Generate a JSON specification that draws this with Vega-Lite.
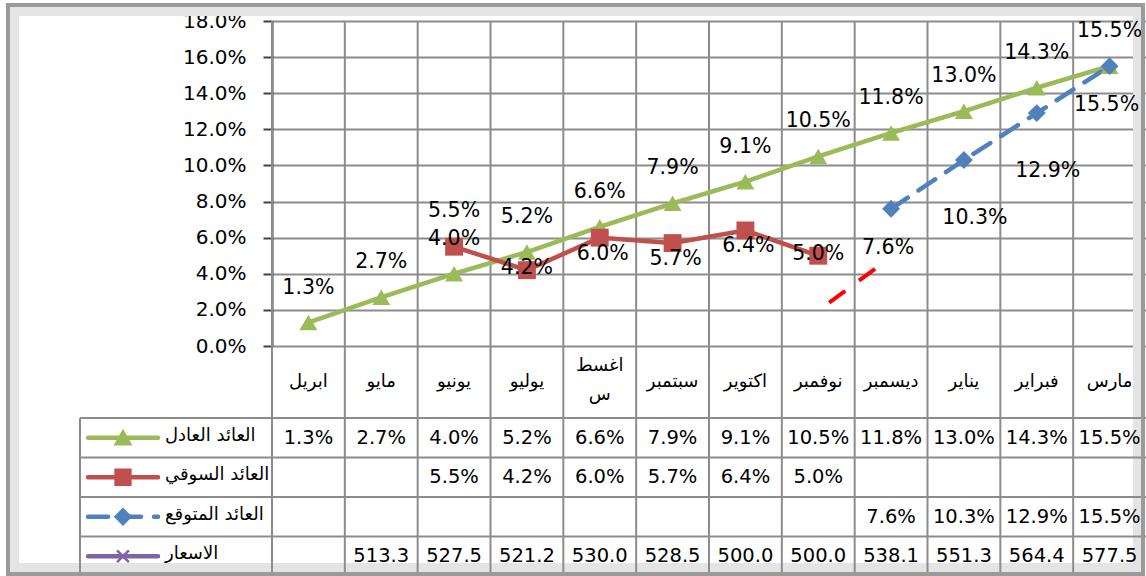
{
  "$schema": "https://vega.github.io/schema/vega-lite/v6.json",
  "width": 874,
  "height": 555,
  "autosize": {"type": "none"},
  "padding": {"left": 272, "top": 21, "right": 0, "bottom": 0},
  "background": "white",
  "config": {"view": {"stroke": null}, "font": "DejaVu Sans"},
  "datasets": {
    "months": [
      {"idx": 0, "month": "ابريل", "العائد العادل": 0.013, "العائد السوقي": null, "العائد المتوقع": null, "الاسعار": null},
      {"idx": 1, "month": "مايو", "العائد العادل": 0.027, "العائد السوقي": null, "العائد المتوقع": null, "الاسعار": 513.3},
      {"idx": 2, "month": "يونيو", "العائد العادل": 0.040, "العائد السوقي": 0.055, "العائد المتوقع": null, "الاسعار": 527.5},
      {"idx": 3, "month": "يوليو", "العائد العادل": 0.052, "العائد السوقي": 0.042, "العائد المتوقع": null, "الاسعار": 521.2},
      {"idx": 4, "month": "اغسطس", "العائد العادل": 0.066, "العائد السوقي": 0.060, "العائد المتوقع": null, "الاسعار": 530.0},
      {"idx": 5, "month": "سبتمبر", "العائد العادل": 0.079, "العائد السوقي": 0.057, "العائد المتوقع": null, "الاسعار": 528.5},
      {"idx": 6, "month": "اكتوير", "العائد العادل": 0.091, "العائد السوقي": 0.064, "العائد المتوقع": null, "الاسعار": 500.0},
      {"idx": 7, "month": "نوفمبر", "العائد العادل": 0.105, "العائد السوقي": 0.050, "العائد المتوقع": null, "الاسعار": 500.0},
      {"idx": 8, "month": "ديسمبر", "العائد العادل": 0.118, "العائد السوقي": null, "العائد المتوقع": 0.076, "الاسعار": 538.1},
      {"idx": 9, "month": "يناير", "العائد العادل": 0.130, "العائد السوقي": null, "العائد المتوقع": 0.103, "الاسعار": 551.3},
      {"idx": 10, "month": "فبراير", "العائد العادل": 0.143, "العائد السوقي": null, "العائد المتوقع": 0.129, "الاسعار": 564.4},
      {"idx": 11, "month": "مارس", "العائد العادل": 0.155, "العائد السوقي": null, "العائد المتوقع": 0.155, "الاسعار": 577.5}
    ],
    "rows": [
      {"series": "العائد العادل"},
      {"series": "العائد السوقي"},
      {"series": "العائد المتوقع"},
      {"series": "الاسعار"}
    ],
    "stray": [
      {"x": 7.15, "y": 0.024},
      {"x": 7.79, "y": 0.043}
    ]
  },
  "data": {"name": "months"},
  "layer": [
    {
      "layer": [
        {
          "data": {"values": [{}]},
          "mark": {"type": "rect", "fillOpacity": 0, "stroke": "#e4e4e4", "strokeWidth": 10},
          "encoding": {
            "x": {"datum": -4.0424, "type": "quantitative", "scale": {"domain": [-0.5, 11.5], "nice": false, "zero": false}, "axis": null},
            "x2": {"datum": 11.39},
            "y": {"datum": 0.18554, "type": "quantitative", "scale": {"domain": [0, 0.18], "range": [325, 0], "nice": false, "zero": false}},
            "y2": {"datum": -0.12295}
          }
        },
        {
          "transform": [{"calculate": "datum.idx - 0.5", "as": "b"}],
          "mark": {"type": "rule", "color": "#8c8c8c", "strokeWidth": 2},
          "encoding": {
            "x": {"field": "b", "type": "quantitative", "scale": {"domain": [-0.5, 11.5], "nice": false, "zero": false}, "axis": null}
          }
        },
        {
          "data": {"values": [{}]},
          "mark": {"type": "rule", "color": "#8c8c8c", "strokeWidth": 2},
          "encoding": {
            "x": {"datum": -3.136, "type": "quantitative", "scale": {"domain": [-0.5, 11.5], "nice": false, "zero": false}, "axis": null},
            "y": {"datum": -0.0399, "type": "quantitative", "scale": {"domain": [0, 0.18], "range": [325, 0], "nice": false, "zero": false}},
            "y2": {"datum": -0.1274}
          }
        },
        {
          "transform": [
            {"fold": ["العائد العادل", "العائد السوقي", "العائد المتوقع"], "as": ["series", "value"]},
            {"filter": "isValid(datum.value)"}
          ],
          "mark": {"type": "line", "strokeWidth": 4.5, "strokeCap": "round", "strokeJoin": "round"},
          "encoding": {
            "x": {"field": "idx", "type": "quantitative", "scale": {"domain": [-0.5, 11.5], "nice": false, "zero": false}, "axis": null},
            "y": {
              "field": "value", "type": "quantitative",
              "scale": {"domain": [0, 0.18], "range": [325, 0], "nice": false, "zero": false},
              "axis": {
                "values": [0, 0.02, 0.04, 0.06, 0.08, 0.1, 0.12, 0.14, 0.16, 0.18],
                "format": ".1%", "title": null,
                "labelFontSize": 20, "labelFont": "DejaVu Sans", "labelColor": "black",
                "tickSize": 9, "tickColor": "#404040", "tickWidth": 2,
                "domainColor": "#404040", "domainWidth": 2, "labelPadding": 17,
                "grid": true, "gridColor": "#8c8c8c", "gridWidth": 2
              }
            },
            "color": {"field": "series", "type": "nominal", "scale": {"domain": ["العائد العادل", "العائد السوقي", "العائد المتوقع", "الاسعار"], "range": ["#9BBB59", "#C0504D", "#4F81BD", "#8064A2"]}, "legend": null},
            "strokeDash": {"field": "series", "type": "nominal", "scale": {"domain": ["العائد العادل", "العائد السوقي", "العائد المتوقع", "الاسعار"], "range": [[1, 0], [1, 0], [20, 13], [1, 0]]}, "legend": null}
          }
        },
        {
          "data": {"name": "stray"},
          "mark": {"type": "line", "color": "#FF0000", "strokeWidth": 4, "strokeDash": [20, 17]},
          "encoding": {
            "x": {"field": "x", "type": "quantitative", "scale": {"domain": [-0.5, 11.5], "nice": false, "zero": false}, "axis": null},
            "y": {"field": "y", "type": "quantitative", "scale": {"domain": [0, 0.18], "range": [325, 0], "nice": false, "zero": false}}
          }
        },
        {
          "transform": [
            {"fold": ["العائد العادل", "العائد السوقي", "العائد المتوقع"], "as": ["series", "value"]},
            {"filter": "isValid(datum.value)"}
          ],
          "mark": {"type": "point", "filled": true, "opacity": 1, "size": 320},
          "encoding": {
            "x": {"field": "idx", "type": "quantitative", "scale": {"domain": [-0.5, 11.5], "nice": false, "zero": false}, "axis": null},
            "y": {"field": "value", "type": "quantitative", "scale": {"domain": [0, 0.18], "range": [325, 0], "nice": false, "zero": false}},
            "color": {"field": "series", "type": "nominal", "legend": null},
            "shape": {"field": "series", "type": "nominal", "scale": {"domain": ["العائد العادل", "العائد السوقي", "العائد المتوقع", "الاسعار"], "range": ["triangle-up", "square", "diamond", "M-0.8,-0.8L0.8,0.8M-0.8,0.8L0.8,-0.8"]}, "legend": null}
          }
        },
        {
          "transform": [{"filter": "isValid(datum['العائد العادل'])"}],
          "mark": {"type": "text", "fontSize": 20.5, "dy": -35, "color": "black"},
          "encoding": {
            "x": {"field": "idx", "type": "quantitative", "scale": {"domain": [-0.5, 11.5], "nice": false, "zero": false}, "axis": null},
            "y": {"field": "العائد العادل", "type": "quantitative", "scale": {"domain": [0, 0.18], "range": [325, 0], "nice": false, "zero": false}},
            "text": {"field": "العائد العادل", "type": "quantitative", "format": ".1%"}
          }
        },
        {
          "transform": [{"filter": "datum.idx == 2"}],
          "mark": {"type": "text", "fontSize": 20.5, "dy": -36, "color": "black"},
          "encoding": {
            "x": {"field": "idx", "type": "quantitative", "scale": {"domain": [-0.5, 11.5], "nice": false, "zero": false}, "axis": null},
            "y": {"field": "العائد السوقي", "type": "quantitative", "scale": {"domain": [0, 0.18], "range": [325, 0], "nice": false, "zero": false}},
            "text": {"field": "العائد السوقي", "type": "quantitative", "format": ".1%"}
          }
        },
        {
          "transform": [{"filter": "datum.idx == 3 || datum.idx == 7"}],
          "mark": {"type": "text", "fontSize": 20.5, "dy": -2, "color": "black"},
          "encoding": {
            "x": {"field": "idx", "type": "quantitative", "scale": {"domain": [-0.5, 11.5], "nice": false, "zero": false}, "axis": null},
            "y": {"field": "العائد السوقي", "type": "quantitative", "scale": {"domain": [0, 0.18], "range": [325, 0], "nice": false, "zero": false}},
            "text": {"field": "العائد السوقي", "type": "quantitative", "format": ".1%"}
          }
        },
        {
          "transform": [{"filter": "datum.idx >= 4 && datum.idx <= 6"}],
          "mark": {"type": "text", "fontSize": 20.5, "dy": 16, "dx": 3, "color": "black"},
          "encoding": {
            "x": {"field": "idx", "type": "quantitative", "scale": {"domain": [-0.5, 11.5], "nice": false, "zero": false}, "axis": null},
            "y": {"field": "العائد السوقي", "type": "quantitative", "scale": {"domain": [0, 0.18], "range": [325, 0], "nice": false, "zero": false}},
            "text": {"field": "العائد السوقي", "type": "quantitative", "format": ".1%"}
          }
        },
        {
          "transform": [{"filter": "datum.idx == 8 || datum.idx == 11"}],
          "mark": {"type": "text", "fontSize": 20.5, "dy": 39, "dx": -3, "color": "black"},
          "encoding": {
            "x": {"field": "idx", "type": "quantitative", "scale": {"domain": [-0.5, 11.5], "nice": false, "zero": false}, "axis": null},
            "y": {"field": "العائد المتوقع", "type": "quantitative", "scale": {"domain": [0, 0.18], "range": [325, 0], "nice": false, "zero": false}},
            "text": {"field": "العائد المتوقع", "type": "quantitative", "format": ".1%"}
          }
        },
        {
          "transform": [{"filter": "datum.idx == 9 || datum.idx == 10"}],
          "mark": {"type": "text", "fontSize": 20.5, "dy": 58, "dx": 11, "color": "black"},
          "encoding": {
            "x": {"field": "idx", "type": "quantitative", "scale": {"domain": [-0.5, 11.5], "nice": false, "zero": false}, "axis": null},
            "y": {"field": "العائد المتوقع", "type": "quantitative", "scale": {"domain": [0, 0.18], "range": [325, 0], "nice": false, "zero": false}},
            "text": {"field": "العائد المتوقع", "type": "quantitative", "format": ".1%"}
          }
        },
        {
          "transform": [{"filter": "datum.month != 'اغسطس'"}],
          "mark": {"type": "text", "fontSize": 18, "dy": 36, "color": "black", "font": "DejaVu Sans"},
          "encoding": {
            "x": {"field": "idx", "type": "quantitative", "scale": {"domain": [-0.5, 11.5], "nice": false, "zero": false}, "axis": null},
            "y": {"datum": 0, "type": "quantitative", "scale": {"domain": [0, 0.18], "range": [325, 0], "nice": false, "zero": false}},
            "text": {"field": "month"}
          }
        },
        {
          "transform": [
            {"filter": "datum.month == 'اغسطس'"},
            {"calculate": "['اغسط', 'س']", "as": "lbl"}
          ],
          "mark": {"type": "text", "fontSize": 18, "dy": 20, "lineHeight": 29, "color": "black", "font": "DejaVu Sans"},
          "encoding": {
            "x": {"field": "idx", "type": "quantitative", "scale": {"domain": [-0.5, 11.5], "nice": false, "zero": false}, "axis": null},
            "y": {"datum": 0, "type": "quantitative", "scale": {"domain": [0, 0.18], "range": [325, 0], "nice": false, "zero": false}},
            "text": {"field": "lbl"}
          }
        }
      ]
    },
    {
      "layer": [
        {
          "data": {"name": "rows"},
          "mark": {"type": "rule", "color": "#8c8c8c", "strokeWidth": 2},
          "encoding": {
            "x": {"datum": -3.136, "type": "quantitative", "scale": {"domain": [-0.5, 11.5], "nice": false, "zero": false}, "axis": null},
            "x2": {"datum": 11.5},
            "y": {"field": "series", "type": "nominal", "bandPosition": 0, "scale": {"type": "band", "domain": ["العائد العادل", "العائد السوقي", "العائد المتوقع", "الاسعار"], "range": [397, 555], "paddingInner": 0, "paddingOuter": 0}, "axis": null}
          }
        },
        {
          "transform": [
            {"fold": ["العائد العادل", "العائد السوقي", "العائد المتوقع", "الاسعار"], "as": ["series", "value"]},
            {"filter": "isValid(datum.value)"},
            {"calculate": "datum.series == 'الاسعار' ? format(datum.value, '.1f') : format(datum.value, '.1%')", "as": "label"}
          ],
          "mark": {"type": "text", "fontSize": 19.5, "color": "black"},
          "encoding": {
            "x": {"field": "idx", "type": "quantitative", "scale": {"domain": [-0.5, 11.5], "nice": false, "zero": false}, "axis": null},
            "y": {"field": "series", "type": "nominal", "scale": {"type": "band", "domain": ["العائد العادل", "العائد السوقي", "العائد المتوقع", "الاسعار"], "range": [397, 555], "paddingInner": 0, "paddingOuter": 0}, "axis": null},
            "text": {"field": "label"}
          }
        },
        {
          "data": {"name": "rows"},
          "mark": {"type": "rule", "strokeWidth": 4.5, "strokeCap": "round"},
          "encoding": {
            "x": {"datum": -3.026, "type": "quantitative", "scale": {"domain": [-0.5, 11.5], "nice": false, "zero": false}, "axis": null},
            "x2": {"datum": -2.065},
            "y": {"field": "series", "type": "nominal", "scale": {"type": "band", "domain": ["العائد العادل", "العائد السوقي", "العائد المتوقع", "الاسعار"], "range": [397, 555], "paddingInner": 0, "paddingOuter": 0}, "axis": null},
            "color": {"field": "series", "type": "nominal", "legend": null},
            "strokeDash": {"field": "series", "type": "nominal", "legend": null}
          }
        },
        {
          "data": {"name": "rows"},
          "mark": {"type": "point", "filled": true, "opacity": 1, "size": 220, "strokeWidth": 2.5},
          "encoding": {
            "x": {"datum": -2.546, "type": "quantitative", "scale": {"domain": [-0.5, 11.5], "nice": false, "zero": false}, "axis": null},
            "y": {"field": "series", "type": "nominal", "scale": {"type": "band", "domain": ["العائد العادل", "العائد السوقي", "العائد المتوقع", "الاسعار"], "range": [397, 555], "paddingInner": 0, "paddingOuter": 0}, "axis": null},
            "color": {"field": "series", "type": "nominal", "legend": null},
            "stroke": {"field": "series", "type": "nominal", "scale": {"domain": ["العائد العادل", "العائد السوقي", "العائد المتوقع", "الاسعار"], "range": ["#9BBB59", "#C0504D", "#4F81BD", "#8064A2"]}, "legend": null},
            "shape": {"field": "series", "type": "nominal", "legend": null}
          }
        },
        {
          "data": {"name": "rows"},
          "mark": {"type": "text", "fontSize": 18, "align": "left", "dy": -2, "color": "black", "font": "DejaVu Sans"},
          "encoding": {
            "x": {"datum": -1.969, "type": "quantitative", "scale": {"domain": [-0.5, 11.5], "nice": false, "zero": false}, "axis": null},
            "y": {"field": "series", "type": "nominal", "scale": {"type": "band", "domain": ["العائد العادل", "العائد السوقي", "العائد المتوقع", "الاسعار"], "range": [397, 555], "paddingInner": 0, "paddingOuter": 0}, "axis": null},
            "text": {"field": "series"}
          }
        }
      ]
    },
    {
      "data": {"values": [{}]},
      "mark": {"type": "rect", "fillOpacity": 0, "stroke": "#9a9a9a", "strokeWidth": 4},
      "encoding": {
        "x": {"datum": -4.1248, "type": "quantitative", "scale": {"domain": [-0.5, 11.5], "nice": false, "zero": false}, "axis": null},
        "x2": {"datum": 11.459},
        "y": {"datum": 0.18886, "type": "quantitative", "scale": {"domain": [0, 0.18], "range": [325, 0], "nice": false, "zero": false}, "axis": null},
        "y2": {"datum": -0.12628}
      }
    }
  ],
  "resolve": {"scale": {"y": "independent"}}
}
